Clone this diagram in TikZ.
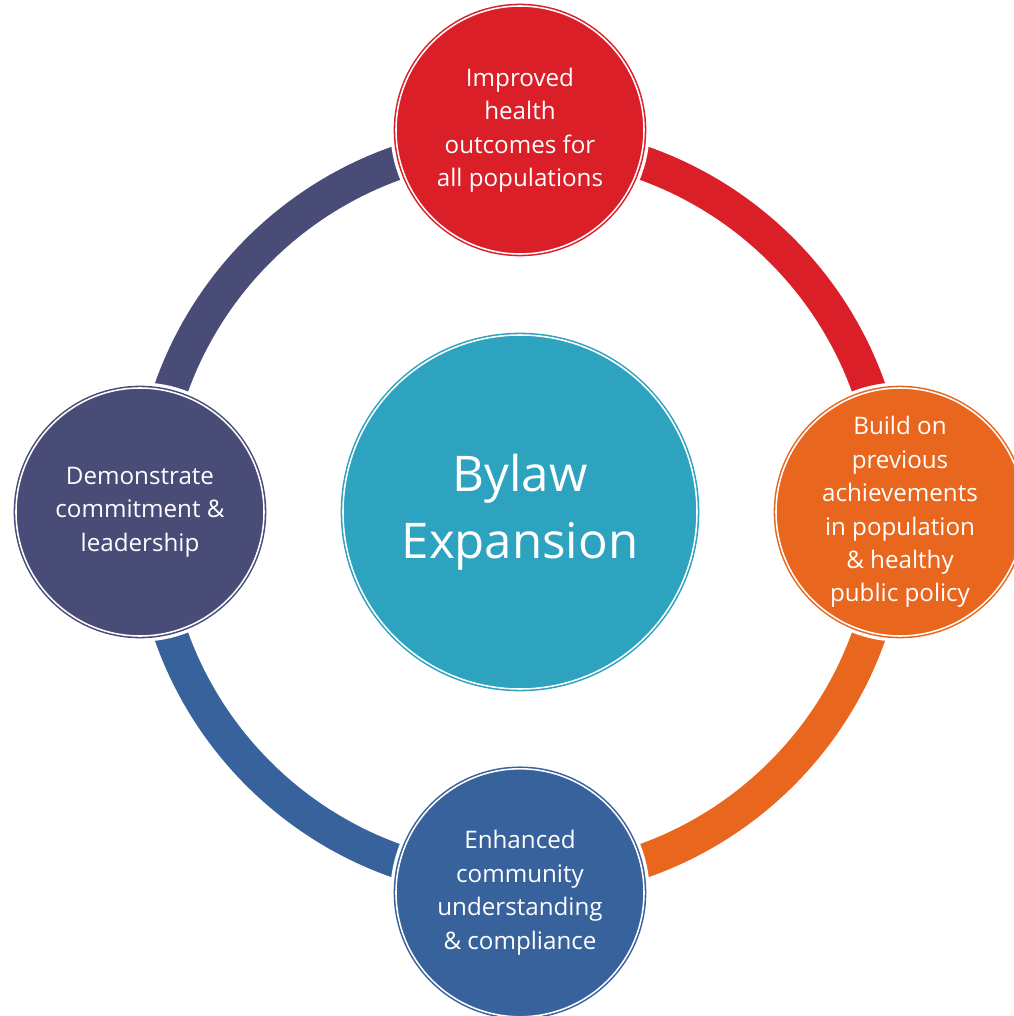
\documentclass[tikz,border=0pt]{standalone}
\usepackage{fontspec}
\setmainfont{Open Sans}
\usepackage{tikz}
\usepackage{xcolor}

\begin{document}
\begin{tikzpicture}[mynode/.style={circle,minimum size=6.2cm,inner sep=0pt,text=white,align=center,
    font=\fontsize{17.2}{23.8}\selectfont,fill=#1,draw=#1,line width=1.1pt,double=white,double distance=1.1pt,
    preaction={draw=white,line width=8pt}},
  ringarc/.style={line width=0.85cm}]
\definecolor{hubteal}{HTML}{2EA3BF}
\definecolor{healthred}{HTML}{DA1F28}
\definecolor{buildorange}{HTML}{E9661E}
\definecolor{commblue}{HTML}{38629C}
\definecolor{leadslate}{HTML}{484C77}
\useasboundingbox (-13,-12.6) rectangle (12.35,12.8);
  \foreach \crlr/\ang in {healthred/0,leadslate/90,commblue/180,buildorange/270}
  {  \draw [ringarc,\crlr] (\ang:9.25) arc (\ang:\ang+90:9.25);}
\node [mynode=healthred] (health) at (0,9.55) {Improved\\health\\outcomes for\\all populations};
\node [mynode=buildorange] (build) at (9.5,0) {Build on\\previous\\achievements\\in population\\\& healthy\\public policy};
\node [mynode=commblue] (comm) at (0,-9.52) {Enhanced\\community\\understanding\\\& compliance};
\node [mynode=leadslate] (lead) at (-9.5,0) {Demonstrate\\commitment \&\\leadership};
\node [mynode=hubteal,minimum size=8.85cm,font=\fontsize{35}{48}\selectfont] (hub) at (0,0) {Bylaw\\Expansion};
\end{tikzpicture}
\end{document}
